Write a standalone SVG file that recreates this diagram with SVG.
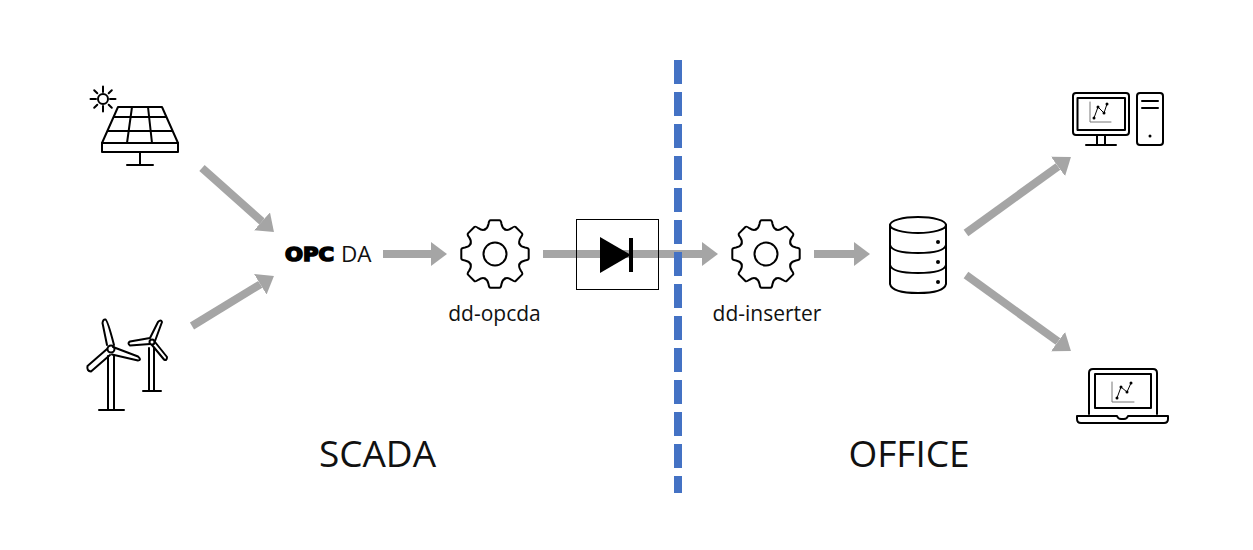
<svg xmlns="http://www.w3.org/2000/svg" xmlns:xlink="http://www.w3.org/1999/xlink" width="1253" height="550" viewBox="0 0 1253 550">
<style>
text{font-family:"Open Sans","Noto Sans","Liberation Sans",sans-serif;fill:#111}
.lbl{font-size:21px;text-anchor:middle}
.zone{font-size:37px;text-anchor:middle}
.ln{fill:none;stroke:#000;stroke-width:2;stroke-linejoin:round;stroke-linecap:round}
.axis{fill:none;stroke:#777;stroke-width:1}
.arrow{fill:none;stroke:#a5a5a5;stroke-width:8;marker-end:url(#head)}
</style>
<defs>
<marker id="head" markerUnits="userSpaceOnUse" markerWidth="16" markerHeight="24" refX="0" refY="12" orient="auto"><path d="M0 0L16 12L0 24Z" fill="#a5a5a5"/></marker>
<path id="tooth" d="M-10.14-24.48C-7.4-25.6-7-27.5-6.5-30Q-6-33.7-4.5-33.7L4.5-33.7Q6-33.7 6.5-30C7-27.5 7.4-25.6 10.14-24.48"/>
<g id="gear" class="ln">
<use href="#tooth"/>
<use href="#tooth" transform="rotate(45)"/>
<use href="#tooth" transform="rotate(90)"/>
<use href="#tooth" transform="rotate(135)"/>
<use href="#tooth" transform="rotate(180)"/>
<use href="#tooth" transform="rotate(225)"/>
<use href="#tooth" transform="rotate(270)"/>
<use href="#tooth" transform="rotate(315)"/>
<circle r="11.5"/>
</g>
</defs>
<rect width="1253" height="550" fill="#fff"/>

<g id="solar" class="ln">
<circle cx="103" cy="99" r="5"/>
<path d="M103 86.500V92M103 106V111.500M90.500 99H96M110 99H115.500M94.200 90.200L97.300 93.300M108.700 104.700L111.800 107.800M94.200 107.800L97.300 104.700M108.700 93.300L111.800 90.200"/>
<path d="M118 107H162L178 143V152H102V143Z"/>
<path d="M102 143H178M114 117H166M108 131H172M132 107L127 143M148 107L152 143M140 152V165M127 165H153"/>
</g>

<g id="wind" class="ln">
<circle cx="111" cy="349" r="3.500"/>
<path d="M107 345L102.500 323Q103 319 105.500 319.500Q107.500 320 114 345M113 347L138 356.500Q142 360 138 360.500L112 354.500M107 349L87.500 366Q86.500 371 91 371.500L110 355"/>
<path d="M108 356V410M114 356V410M99 410H124"/>
<circle cx="152" cy="342" r="2.500"/>
<path d="M150 338L158 322Q161 319 162 322L155 341M155 342L167 357Q167 361 164 359.500L152 345M150 344L130 345.500Q127 343 130 341.500L150 338"/>
<path d="M149 348V391M154 348V391M143 391H161"/>
</g>

<g id="opc">
<text x="285" y="260.500" font-size="19" font-weight="700" textLength="49" lengthAdjust="spacingAndGlyphs" style="font-family:'DejaVu Sans',sans-serif;fill:#000;stroke:#000;stroke-width:1.600">OPC</text>
<text x="341" y="261.500" font-size="22.500">DA</text>
</g>

<g id="dd-opcda">
<use href="#gear" x="495" y="254"/>
<text class="lbl" x="494.500" y="321">dd-opcda</text>
</g>

<g id="dd-inserter">
<use href="#gear" x="766" y="254"/>
<text class="lbl" x="767" y="321">dd-inserter</text>
</g>

<g id="database" class="ln">
<ellipse cx="918" cy="225" rx="28" ry="8"/>
<path d="M890 225V284Q892 293 918 293Q944 293 946 284V225M890 245Q892 253 918 253Q944 253 946 245M890 265Q892 273 918 273Q944 273 946 265"/>
<g fill="#000" stroke="none"><circle cx="938" cy="242" r="2"/><circle cx="938" cy="262" r="2"/><circle cx="938" cy="282" r="2"/></g>
</g>

<g id="desktop" class="ln">
<rect x="1073" y="93" width="56" height="42" rx="3"/>
<rect x="1077.500" y="98" width="47.500" height="32"/>
<path d="M1097 135V145M1105 135V145M1086 145H1116"/>
<rect x="1137" y="93" width="26" height="52" rx="3"/>
<path d="M1142 101H1158M1142 108H1158"/>
<circle cx="1150" cy="136" r="1.500" fill="#000" stroke="none"/>
<path class="axis" d="M1090 102V122H1111"/>
<path d="M1094 118L1098 107L1104 113L1107 104" stroke-width="1"/>
<g fill="#000" stroke="none"><circle cx="1094" cy="118" r="1.500"/><circle cx="1098" cy="107" r="1.500"/><circle cx="1104" cy="113" r="1.500"/><circle cx="1107" cy="104" r="1.500"/></g>
</g>

<g id="laptop" class="ln">
<path d="M1089 414V373Q1089 369 1093 369H1153Q1157 369 1157 373V414"/>
<rect x="1095" y="374" width="56" height="34"/>
<path d="M1077 416H1117Q1118 419 1121 419H1124Q1127 419 1128 416H1168V419Q1168 423 1164 423H1081Q1077 423 1077 419Z"/>
<path class="axis" d="M1112 382V402H1134"/>
<path d="M1117 398L1121 387L1127 392L1131 383" stroke-width="1"/>
<g fill="#000" stroke="none"><circle cx="1117" cy="398" r="1.500"/><circle cx="1121" cy="387" r="1.500"/><circle cx="1127" cy="392" r="1.500"/><circle cx="1131" cy="383" r="1.500"/></g>
</g>

<g id="connectors">
<line class="arrow" x1="202" y1="168" x2="262" y2="221.400"/>
<line class="arrow" x1="192" y1="326" x2="260.300" y2="284.300"/>
<line class="arrow" x1="383" y1="254" x2="431" y2="254"/>
<line class="arrow" x1="543" y1="254" x2="702" y2="254"/>
<line class="arrow" x1="814" y1="254" x2="854" y2="254"/>
<line class="arrow" x1="966" y1="233" x2="1058" y2="166.400"/>
<line class="arrow" x1="966" y1="275" x2="1058" y2="341.600"/>
</g>

<g id="diode">
<rect x="576.500" y="219.500" width="82" height="70" fill="none" stroke="#000" stroke-width="1"/>
<path d="M600 237L631 255L600 273Z" fill="#000"/>
<rect x="629" y="238" width="4" height="34" fill="#000"/>
</g>

<line id="divider" x1="678" y1="60" x2="678" y2="493" stroke="#4472c4" stroke-width="8" stroke-dasharray="24 8"/>

<g id="labels">
<text class="zone" x="377.500" y="467">SCADA</text>
<text class="zone" x="909" y="467">OFFICE</text>
</g>
</svg>
